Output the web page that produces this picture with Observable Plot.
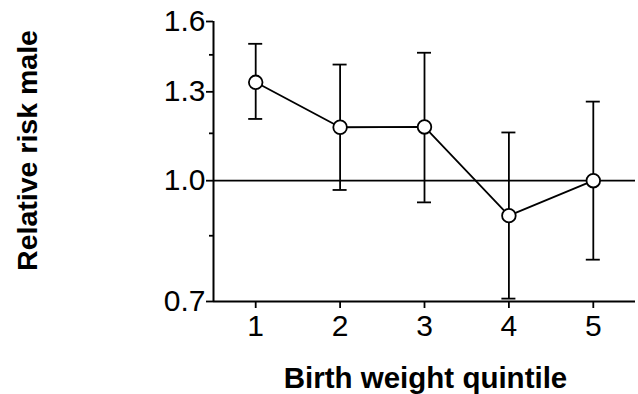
<!DOCTYPE html>
<html>
<head>
<meta charset="utf-8">
<script src="https://cdn.jsdelivr.net/npm/d3@7"></script>
<script src="https://cdn.jsdelivr.net/npm/@observablehq/plot@0.6"></script>
<style>
  html, body { margin: 0; padding: 0; background: #fff; }
  svg { display: block; }
</style>
</head>
<body>
<div id="chart"></div>
<script>
// Relative risk of a male birth by birth weight quintile, with 95% CI
const quintiles = [1, 2, 3, 4, 5];
const relativeRisk = [1.337, 1.171, 1.172, 0.902, 1.0];
const ciLower = [1.20, 0.973, 0.938, 0.706, 0.792];
const ciUpper = [1.498, 1.409, 1.459, 1.153, 1.263];

const yMajorTicks = [0.7, 1.0, 1.3, 1.6];
const yMinorTicks = [0.85, 1.15, 1.45];
const xTicks = [1, 2, 3, 4, 5];

const data = quintiles.map((q, i) => ({q, rr: relativeRisk[i], lo: ciLower[i], hi: ciUpper[i]}));
const capHalf = 0.083; // half-width of the error bar caps, in quintile units

const font = "Liberation Sans, Arial, Helvetica, sans-serif";

const chart = Plot.plot({
  width: 638,
  height: 394,
  marginLeft: 213,
  marginRight: 3,
  marginTop: 21,
  marginBottom: 93,
  style: {fontFamily: font, fontSize: "30px", color: "#000", background: "#fff"},
  x: {domain: [0.5, 5.5]},
  y: {type: "log", domain: [0.7, 1.6]},
  marks: [
    // axes
    Plot.axisY(yMajorTicks, {
      tickSize: 7, tickPadding: 1, strokeWidth: 1.8,
      tickFormat: d3.format(".1f"), label: null, fontSize: 30
    }),
    Plot.axisY(yMinorTicks, {tickSize: 4, strokeWidth: 1.8, tickFormat: () => "", label: null}),
    Plot.axisX(xTicks, {
      tickSize: 7, tickPadding: 6, strokeWidth: 1.8,
      tickFormat: d3.format("d"), label: null, fontSize: 30
    }),
    Plot.ruleX([0.5], {strokeWidth: 2}),
    Plot.ruleY([0.7], {strokeWidth: 2}),
    // reference line at RR = 1
    Plot.ruleY([1], {strokeWidth: 1.8}),
    // confidence intervals
    Plot.ruleX(data, {x: "q", y1: "lo", y2: "hi", strokeWidth: 1.8}),
    Plot.ruleY(data, {y: "lo", x1: d => d.q - capHalf, x2: d => d.q + capHalf, strokeWidth: 1.8}),
    Plot.ruleY(data, {y: "hi", x1: d => d.q - capHalf, x2: d => d.q + capHalf, strokeWidth: 1.8}),
    // point estimates
    Plot.line(data, {x: "q", y: "rr", strokeWidth: 1.8}),
    Plot.dot(data, {x: "q", y: "rr", r: 6.8, fill: "#fff", stroke: "#000", strokeWidth: 1.8}),
    // axis titles
    Plot.text(["Birth weight quintile"], {
      frameAnchor: "bottom", dx: 1, dy: 77, lineAnchor: "middle",
      fontWeight: "bold", fontSize: 29.5
    }),
    Plot.text(["Relative risk male"], {
      frameAnchor: "left", rotate: -90, dx: -186, dy: -11, lineAnchor: "middle",
      textAnchor: "middle", fontWeight: "bold", fontSize: 28.5
    })
  ]
});

document.getElementById("chart").append(chart);
</script>
</body>
</html>
